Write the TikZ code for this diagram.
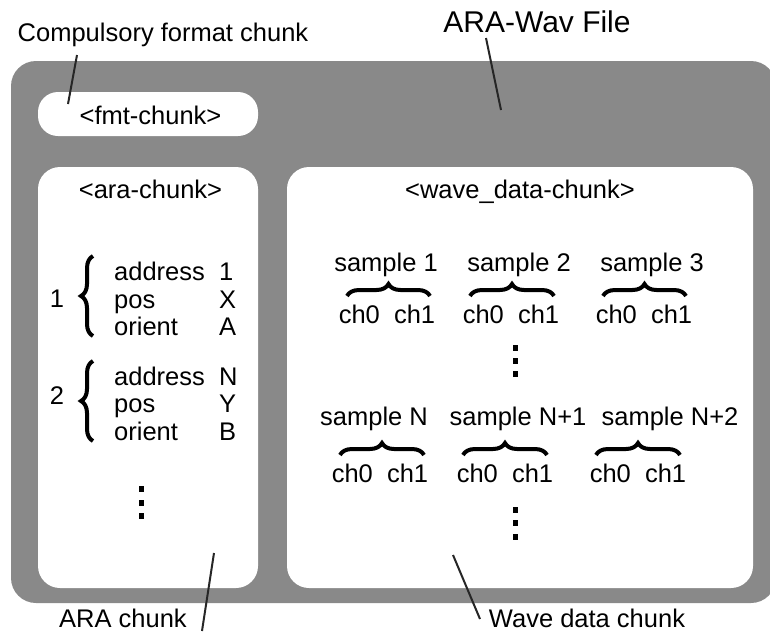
\documentclass[tikz,border=0pt]{standalone}
\usepackage{fontspec}
\setmainfont{Liberation Sans}
\usetikzlibrary{decorations.pathreplacing}
\definecolor{filegray}{HTML}{898989}
\begin{document}
\begin{tikzpicture}[x=1pt,y=-1pt,
  txt/.style={font=\fontsize{25.5}{30}\selectfont, inner sep=0pt, anchor=base},
  ttl/.style={font=\fontsize{30}{36}\selectfont, inner sep=0pt, anchor=base},
  fld/.style={txt, anchor=base west},
  panel/.style={fill=white, rounded corners=22pt},
  lead/.style={line width=2pt, draw=black!85},
  grp/.style={decorate, decoration={brace, amplitude=12pt}, line width=4pt},
  smp/.style={decorate, decoration={brace, amplitude=12pt}, line width=4pt},
  vdot/.style={fill=black, minimum width=5pt, minimum height=6pt, inner sep=0pt}]
\useasboundingbox (0,0) rectangle (770,632);

% outer file container
\fill[filegray, rounded corners=25pt] (11,61) rectangle (776,603);

% inner chunks
\fill[panel, rounded corners=20pt] (38,92) rectangle (258,136);
\fill[panel] (38,167) rectangle (258,588);
\fill[panel] (287,167) rectangle (753,588);

% captions
\node[ttl] (title) at (537,32) {ARA-Wav File};
\node[txt] (cfc) at (163,41) {Compulsory format chunk};
\node[txt] (arac) at (123,627) {ARA chunk};
\node[txt] (wavc) at (587,627) {Wave data chunk};

% leader lines
\coordinate (titleA) at (486,38);  \coordinate (titleB) at (501,110);
\coordinate (cfcA) at (77,55);     \coordinate (cfcB) at (68,104);
\coordinate (aracA) at (214,553);  \coordinate (aracB) at (202,631);
\coordinate (wavcA) at (453,555);  \coordinate (wavcB) at (480,619);
\draw[lead] (titleA) -- (titleB);
\draw[lead] (cfcA) -- (cfcB);
\draw[lead] (aracA) -- (aracB);
\draw[lead] (wavcA) -- (wavcB);

% chunk headers
\node[txt] (fmt) at (150.5,124) {<fmt-chunk>};
\node[txt] (ara) at (150.5,198) {<ara-chunk>};
\node[txt] (wave) at (520,198) {<wave\_data-chunk>};

% ara-chunk entries
\node[txt] (g1) at (57,307) {1};
\draw[grp] (93,336) -- (93,256);
\node[fld] (a1) at (114,280) {address};
\node[fld] (p1) at (114,308) {pos};
\node[fld] (o1) at (114,335) {orient};
\node[fld] (a1v) at (219,280) {1};
\node[fld] (p1v) at (219,308) {X};
\node[fld] (o1v) at (219,335) {A};

\node[txt] (g2) at (57,404) {2};
\draw[grp] (93,441) -- (93,361);
\node[fld] (a2) at (114,385) {address};
\node[fld] (p2) at (114,412) {pos};
\node[fld] (o2) at (114,440) {orient};
\node[fld] (a2v) at (219,385) {N};
\node[fld] (p2v) at (219,412) {Y};
\node[fld] (o2v) at (219,440) {B};

\node[vdot] (ad1) at (141,489) {};
\node[vdot] (ad2) at (141,503) {};
\node[vdot] (ad3) at (141,516) {};

% wave data samples, first row
\node[txt] (s1) at (386,271) {sample 1};
\node[txt] (s2) at (519,271) {sample 2};
\node[txt] (s3) at (652,271) {sample 3};
\draw[smp] (347,296) -- (430,296);
\draw[smp] (470,296) -- (554,296);
\draw[smp] (603,296) -- (686,296);
\node[txt] (c1) at (387,323) {ch0~~ch1};
\node[txt] (c2) at (511,323) {ch0~~ch1};
\node[txt] (c3) at (644,323) {ch0~~ch1};

\node[vdot] (wd1) at (515,348) {};
\node[vdot] (wd2) at (515,361) {};
\node[vdot] (wd3) at (515,374) {};

% wave data samples, second row
\node[txt] (sn) at (374,425) {sample N};
\node[txt] (sn1) at (518,425) {sample N+1};
\node[txt] (sn2) at (670,425) {sample N+2};
\draw[smp] (340,455) -- (424,455);
\draw[smp] (463,455) -- (547,455);
\draw[smp] (596,455) -- (680,455);
\node[txt] (cn) at (380,482) {ch0~~ch1};
\node[txt] (cn1) at (505,482) {ch0~~ch1};
\node[txt] (cn2) at (638,482) {ch0~~ch1};

\node[vdot] (we1) at (515,510) {};
\node[vdot] (we2) at (515,523) {};
\node[vdot] (we3) at (515,537) {};
\end{tikzpicture}
\end{document}
